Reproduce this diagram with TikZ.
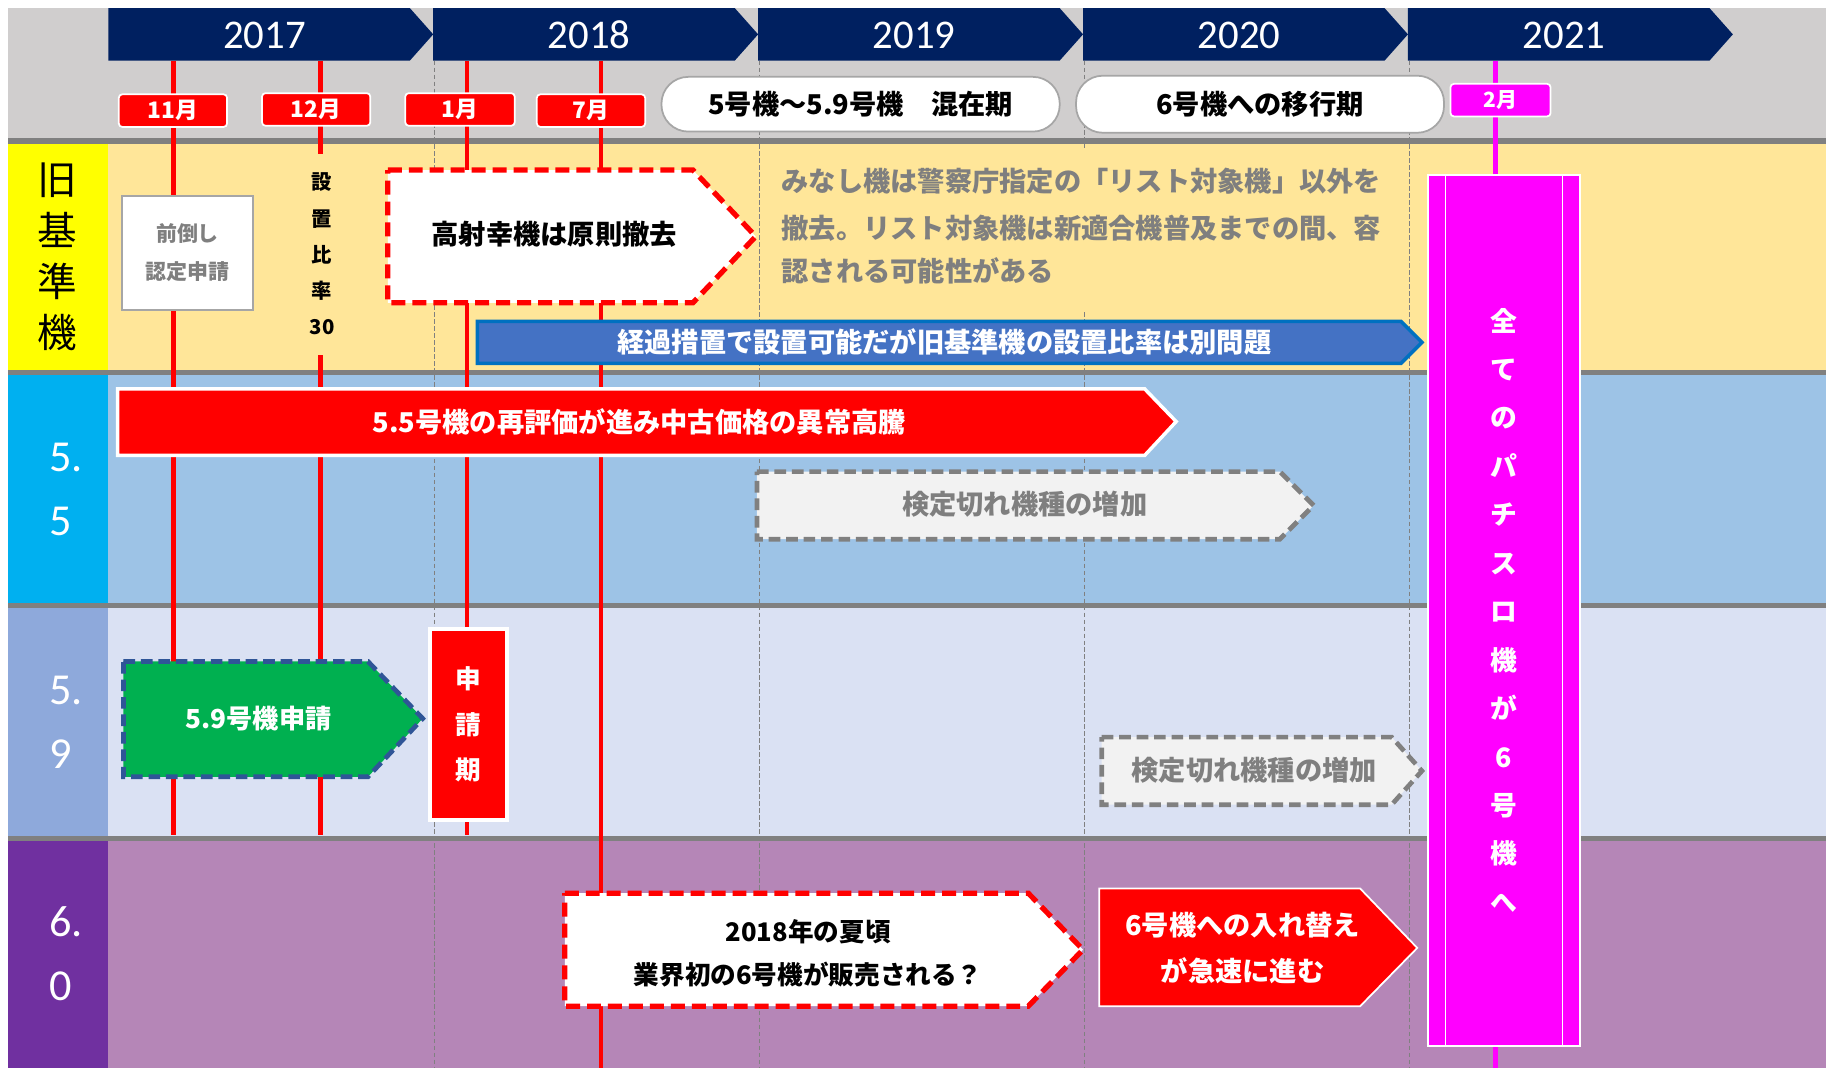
\documentclass[tikz,border=0pt]{standalone}
\usepackage{fontspec}
\newfontfamily\jp{Noto Sans CJK JP}
\newfontfamily\numf{Carlito}
\newcommand\jfs[2]{\jp\bfseries\fontsize{#1}{#2}\selectfont}
\newcommand\jfr[2]{\jp\fontsize{#1}{#2}\selectfont}
\definecolor{hdrgray}{HTML}{D0CECE}
\definecolor{rowold}{HTML}{FFE699}
\definecolor{rowff}{HTML}{9DC3E6}
\definecolor{rownine}{HTML}{DAE1F3}
\definecolor{rowsix}{HTML}{B586B7}
\definecolor{colold}{HTML}{FFFF00}
\definecolor{colff}{HTML}{00B0F0}
\definecolor{colnine}{HTML}{8EA9DB}
\definecolor{colsix}{HTML}{7030A0}
\definecolor{sepgray}{HTML}{808080}
\definecolor{navy}{HTML}{002060}
\definecolor{pred}{HTML}{FF0000}
\definecolor{pmag}{HTML}{FF00FF}
\definecolor{bluefill}{HTML}{4472C4}
\definecolor{blueline}{HTML}{0070C0}
\definecolor{pgreen}{HTML}{00B050}
\definecolor{greenline}{HTML}{2F5597}
\definecolor{lightfill}{HTML}{F2F2F2}
\definecolor{txtgray}{HTML}{7F7F7F}
\definecolor{boxgray}{HTML}{A6A6A6}
\begin{document}
\begin{tikzpicture}[x=1pt,y=-1pt,
  yeartext/.style={text=white, font={\numf\fontsize{35}{35}\selectfont}, inner sep=0pt},
  monthbox/.style={fill=pred, draw=white, line width=1.5pt, rounded corners=3pt, text=white, font=\jfs{19.5}{19.5}, inner sep=0pt},
  redline/.style={draw=pred, line width=4pt},
  magline/.style={draw=pmag, line width=4pt},
  yeardash/.style={draw=sepgray, line width=0.8pt, dash pattern=on 4pt off 2pt},
  sepline/.style={draw=sepgray, line width=4.5pt},
  oval/.style={fill=white, draw=boxgray, line width=1.5pt, rounded corners=23pt, font=\jfs{23.4}{28}, inner sep=0pt},
  reddash/.style={fill=white, draw=pred, line width=4.5pt, dash pattern=on 12pt off 6pt},
  graydash/.style={fill=lightfill, draw=sepgray, line width=4pt, dash pattern=on 10pt off 5pt},
  greendash/.style={fill=pgreen, draw=greenline, line width=4pt, dash pattern=on 10pt off 5pt},
  btxt/.style={inner sep=0pt, font=\jfs{23.4}{28}},
]
\useasboundingbox (0,0) rectangle (1568,917);
\fill[white] (0,0) rectangle (1568,917);
% backgrounds
\fill[hdrgray] (7,7) rectangle (1568,121);
\fill[rowold] (7,121) rectangle (1568,320);
\fill[rowff] (7,320) rectangle (1568,520);
\fill[rownine] (7,520) rectangle (1568,720);
\fill[rowsix] (7,720) rectangle (1568,917);
\fill[colold] (7,121) rectangle (93,320);
\fill[colff] (7,320) rectangle (93,520);
\fill[colnine] (7,520) rectangle (93,720);
\fill[colsix] (7,720) rectangle (93,917);
\foreach \y in {121,320,520,720} \draw[sepline] (7,\y) -- (1568,\y);
% year boundary dashed lines
\foreach \x in {373,652,931,1210} \draw[yeardash] (\x,52) -- (\x,917);
% year arrows
\foreach \x/\yr [count=\i] in {93/2017,372/2018,651/2019,930/2020,1209/2021}{
  \fill[navy] (\x,7) -- (\x+259,7) -- (\x+279,29.5) -- (\x+259,52) -- (\x,52) -- cycle;
  \node[yeartext] (year\i) at (\x+134,30) {\yr};
}
% month lines
\draw[redline] (149,52) -- (149,717);
\draw[redline] (275,52) -- (275,717);
\draw[redline] (401,52) -- (401,717);
\draw[redline] (516,52) -- (516,917);
\draw[magline] (1284,52) -- (1284,917);
% cover boxes
\fill[rowold] (263,132) rectangle (290,305);
\fill[rowold] (660,127) rectangle (1200,268);
% month labels
\node[monthbox, minimum width=93, minimum height=28] (m11) at (148.5,95) {11月};
\node[monthbox, minimum width=93, minimum height=28] (m12) at (271.5,94) {12月};
\node[monthbox, minimum width=94, minimum height=28] (m1) at (395,94) {1月};
\node[monthbox, minimum width=93, minimum height=28] (m7) at (507.5,95) {7月};
\node[fill=pmag, draw=white, line width=1.5pt, rounded corners=3pt, text=white, font=\jfs{18}{18}, inner sep=0pt, minimum width=86, minimum height=28] (m2) at (1288.5,86) {2月};
% ovals
\node[oval, minimum width=342, minimum height=47] (ov1) at (739,89.5) {5号機～5.9号機　混在期};
\node[oval, minimum width=316, minimum height=49] (ov2) at (1082,89.5) {6号機への移行期};
% left labels
\node[inner sep=0pt, align=center, font=\jfr{34}{44}] (lold) at (49,220.5) {旧\\基\\準\\機};
\node[inner sep=0pt, align=left, anchor=west, text=white, font={\numf\fontsize{38}{55}\selectfont}] (lff) at (42,420) {5.\\5};
\node[inner sep=0pt, align=left, anchor=west, text=white, font={\numf\fontsize{38}{55}\selectfont}] (lnine) at (42,620) {5.\\9};
\node[inner sep=0pt, align=left, anchor=west, text=white, font={\numf\fontsize{38}{55}\selectfont}] (lsix) at (42,819) {6.\\0};
% old row
\node[draw=boxgray, fill=white, line width=1.5pt, minimum width=112, minimum height=98, align=center, text=txtgray, font=\jfs{18}{32}, inner sep=0pt] (early) at (161,217) {前倒し\\認定申請};
\node[inner sep=0pt, align=center, font=\jfs{17.5}{31}] (ratio) at (276.5,218) {設\\置\\比\\率\\30};
\draw[reddash] (333,146) -- (595,146) -- (649,203) -- (595,260) -- (333,260) -- cycle;
\node[btxt] (remove) at (476,201) {高射幸機は原則撤去};
\node[btxt, anchor=west, text=txtgray] (para1) at (671,156) {みなし機は警察庁指定の「リスト対象機」以外を};
\node[btxt, anchor=west, text=txtgray] (para2) at (671,196) {撤去。リスト対象機は新適合機普及までの間、容};
\node[btxt, anchor=west, text=txtgray] (para3) at (671,233) {認される可能性がある};
\draw[fill=bluefill, draw=blueline, line width=3pt] (410,276) -- (1203,276) -- (1221,294) -- (1203,312) -- (410,312) -- cycle;
\node[btxt, text=white] (trans) at (811,294) {経過措置で設置可能だが旧基準機の設置比率は別問題};
% 5.5 row
\draw[fill=pred, draw=white, line width=3pt] (101,334) -- (983,334) -- (1010,362) -- (983,391) -- (101,391) -- cycle;
\node[btxt, text=white] (reval) at (549,362) {5.5号機の再評価が進み中古価格の異常高騰};
\draw[graydash] (650,405) -- (1099,405) -- (1128,434) -- (1099,463) -- (650,463) -- cycle;
\node[btxt, text=txtgray] (exp1) at (880,433) {検定切れ機種の増加};
% 5.9 row
\draw[greendash] (106,568) -- (316,568) -- (363,617) -- (316,667) -- (106,667) -- cycle;
\node[btxt, text=white, font=\jfs{22.5}{28}] (apply) at (222,617) {5.9号機申請};
\node[fill=pred, draw=white, line width=3.5pt, minimum width=66, minimum height=164, inner sep=0pt, align=center, text=white, font=\jfs{22}{39}] (period) at (402,622) {申\\請\\期};
\draw[graydash] (946,633) -- (1195,633) -- (1221,662) -- (1195,691) -- (946,691) -- cycle;
\node[btxt, text=txtgray] (exp2) at (1077,661) {検定切れ機種の増加};
% 6.0 row
\draw[reddash] (485,767) -- (883,767) -- (930,815.5) -- (883,864) -- (485,864) -- cycle;
\node[btxt, align=center, font=\jfs{22}{37}] (summer) at (694,818.5) {2018年の夏頃\\業界初の6号機が販売される？};
\draw[fill=pred, draw=white, line width=1.5pt] (944,763) -- (1168,763) -- (1217,814) -- (1168,864) -- (944,864) -- cycle;
\node[btxt, align=center, text=white, font=\jfs{23.4}{40}] (replace) at (1067,814) {6号機への入れ替え\\が急速に進む};
% magenta box
\node[fill=pmag, draw=white, line width=1.5pt, minimum width=131, minimum height=748, inner sep=0pt, align=center, text=white, font=\jfs{23}{41.6}] (all6) at (1291.5,524) {全\\て\\の\\パ\\チ\\ス\\ロ\\機\\が\\6\\号\\機\\へ};
\draw[white, line width=1.5pt] ([xshift=16pt]all6.north west) -- ([xshift=16pt]all6.south west);
\draw[white, line width=1.5pt] ([xshift=-16pt]all6.north east) -- ([xshift=-16pt]all6.south east);
\end{tikzpicture}
\end{document}
